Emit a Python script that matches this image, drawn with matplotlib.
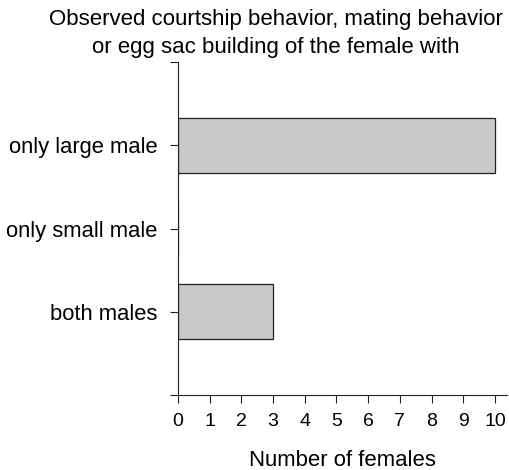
import matplotlib
matplotlib.use("Agg")
import matplotlib.pyplot as plt

categories = ["only large male", "only small male", "both males"]
values = [10, 0, 3]
positions = [3, 2, 1]
xticks = list(range(0, 11))

plt.rcParams['font.family'] = ['Liberation Sans', 'DejaVu Sans']

W, H = 509, 470
fig = plt.figure(figsize=(W/100, H/100), dpi=100)
ax = fig.add_axes([178/W, 1-395/H, (507-178)/W, (395-62)/H])

ax.barh(positions, values, height=0.66, color='#c9c9c9', edgecolor='#222222', linewidth=0.9)
ax.set_xlim(0, 10.38)
ax.set_ylim(0, 4)
ax.set_yticks([0, 1, 2, 3, 4])
ax.set_yticklabels(["", categories[2], categories[1], categories[0], ""], fontsize=15.8)
ax.set_xticks(xticks)
ax.set_xticklabels([str(t) for t in xticks], fontsize=14)
ax.tick_params(axis='both', direction='out', length=6, width=0.8, color='#222222')
ax.tick_params(axis='y', pad=9)
ax.tick_params(axis='x', pad=7)
ax.spines['top'].set_visible(False)
ax.spines['right'].set_visible(False)
for s in ['left', 'bottom']:
    ax.spines[s].set_linewidth(0.8)
    ax.spines[s].set_color('#222222')

ax.set_xlabel("Number of females", fontsize=15.9, labelpad=14)
fig.text(276/W, 1-20/H, "Observed courtship behavior, mating behavior", ha='center', va='center', fontsize=16)
fig.text(276/W, 1-47/H, "or egg sac building of the female with", ha='center', va='center', fontsize=16)

fig.savefig("out.png", dpi=100)
